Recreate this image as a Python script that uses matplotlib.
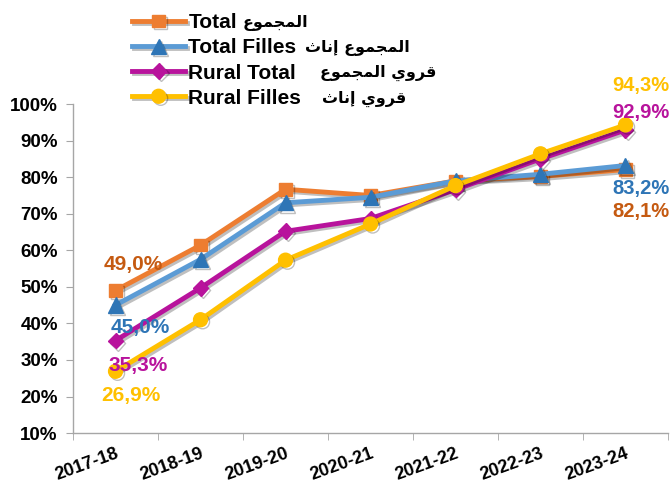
import matplotlib
matplotlib.use("Agg")
import matplotlib.pyplot as plt
import matplotlib.patheffects as pe

# Données : taux par année scolaire
annees = ["2017-18", "2018-19", "2019-20", "2020-21", "2021-22", "2022-23", "2023-24"]
total = [49.0, 61.4, 76.7, 75.0, 79.0, 80.2, 82.1]
total_filles = [45.0, 57.5, 73.0, 74.5, 79.0, 80.8, 83.2]
rural_total = [35.3, 49.7, 65.2, 68.7, 76.6, 85.0, 92.9]
rural_filles = [26.9, 41.0, 57.3, 67.2, 77.7, 86.4, 94.3]

# Mots arabes en formes de présentation (ordre visuel), matplotlib ne fait pas le shaping
AR_MAJMU = "\uFEC9\uFEEE\uFEE4\uFEA0\uFEE4\uFEDF\uFE8D"   # المجموع
AR_INATH = "\uFE99\uFE8E\uFEE7\uFE87"                     # إناث
AR_QARAWI = "\uFEF1\uFEED\uFEAE\uFED7"                    # قروي

libelles = ["Total", "Total Filles", "Rural Total", "Rural Filles"]
libelles_ar = [
    AR_MAJMU,
    AR_INATH + " " + AR_MAJMU,
    AR_MAJMU + " " + AR_QARAWI,
    AR_INATH + " " + AR_QARAWI,
]

plt.rcParams["font.family"] = ["Liberation Sans", "DejaVu Sans"]
plt.rcParams["font.weight"] = "bold"

# (valeurs, couleur ligne, couleur marqueur, marqueur, couleur étiquette, taille)
series = [
    (total, "#ED7D31", "#ED7D31", "s", "#C55A11", 9),
    (total_filles, "#5B9BD5", "#2E75B6", "^", "#2E75B6", 11),
    (rural_total, "#B8139C", "#B8139C", "D", "#B8139C", 8),
    (rural_filles, "#FFC000", "#FFC000", "o", "#FFC000", 10),
]

fig = plt.figure(figsize=(6.70, 4.91), dpi=100)
ax = fig.add_axes([0.109, 0.118, 0.888, 0.670])

x = list(range(len(annees)))
handles = []
for (vals, couleur, mcouleur, marker, _, ms), lab in zip(series, libelles):
    (ligne,) = ax.plot(
        x, vals,
        color=couleur,
        linewidth=3.5,
        marker=marker,
        markersize=ms,
        markerfacecolor=mcouleur,
        markeredgecolor=mcouleur,
        label=lab,
        path_effects=[pe.SimpleLineShadow(offset=(1.5, -1.5), alpha=0.25), pe.Normal()],
        zorder=3,
    )
    handles.append(ligne)

# Étiquettes de valeurs (première et dernière année)
def fmt(v):
    return f"{v:.1f}%".replace(".", ",")

premiers = [(-0.14, 7.0), (-0.06, -6.0), (-0.08, -6.7), (-0.165, -6.5)]
derniers = [(-0.16, -11.4), (-0.16, -6.2), (-0.16, 4.9), (-0.16, 10.9)]
for (vals, _, _, _, tcouleur, _), (dx0, dy0), (dx1, dy1) in zip(series, premiers, derniers):
    ax.text(x[0] + dx0, vals[0] + dy0, fmt(vals[0]), color=tcouleur,
            fontsize=15, fontweight="bold", ha="left", va="center", zorder=4)
    ax.text(x[-1] + dx1, vals[-1] + dy1, fmt(vals[-1]), color=tcouleur,
            fontsize=14.5, fontweight="bold", ha="left", va="center", zorder=4)

# Axes
ax.set_xlim(-0.5, len(annees) - 0.5)
ax.set_ylim(10, 100)
ax.set_yticks(range(10, 101, 10))
ax.set_yticklabels([f"{v}%" for v in range(10, 101, 10)], fontsize=13.5, fontweight="bold")
ax.set_xticks(x)
ax.set_xticklabels(annees, rotation=20, ha="right", va="top", rotation_mode="anchor",
                   fontsize=13, fontweight="bold")
ax.set_xticks([i - 0.5 for i in range(len(annees) + 1)], minor=True)
ax.tick_params(axis="x", which="major", length=0, pad=9)
ax.tick_params(axis="x", which="minor", length=5, color="#A6A6A6")
ax.tick_params(axis="y", length=5, color="#A6A6A6", pad=6)

for cote in ["top", "right"]:
    ax.spines[cote].set_visible(False)
for cote in ["left", "bottom"]:
    ax.spines[cote].set_color("#A6A6A6")
    ax.spines[cote].set_linewidth(1.0)

fig.legend(
    handles=handles,
    loc="upper left",
    bbox_to_anchor=(0.18, 0.996),
    frameon=False,
    handlelength=2.55,
    handletextpad=0.15,
    labelspacing=0.29,
    borderaxespad=0.15,
    prop={"weight": "bold", "size": 15},
)

# Textes arabes à droite des libellés de la légende
positions_ar = [(243, 23), (305, 48), (320, 73), (322, 99)]
for texte, (px, py) in zip(libelles_ar, positions_ar):
    fig.text(px / 670, 1 - py / 491, texte, fontsize=11.5, fontweight="bold",
             ha="left", va="center", family=["DejaVu Sans"])

fig.savefig("out.png", dpi=100)
